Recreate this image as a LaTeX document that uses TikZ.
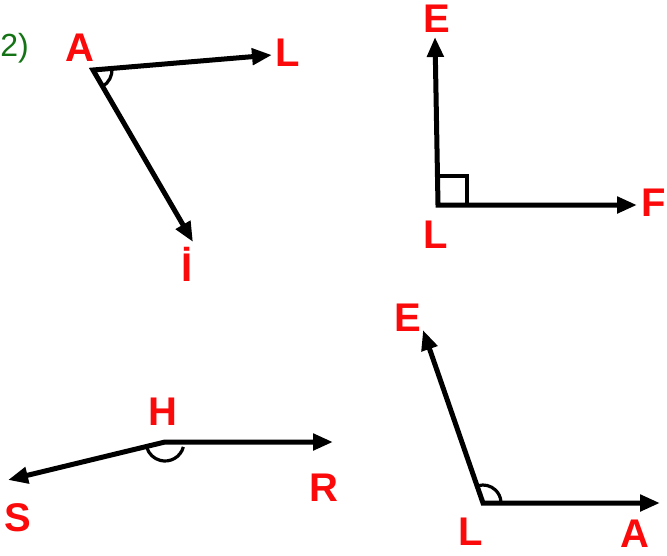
\documentclass[tikz,border=0pt]{standalone}
\usepackage{fontspec}
\setsansfont{Liberation Sans}
\usetikzlibrary{arrows.meta}

\definecolor{labelred}{RGB}{250,10,10}
\definecolor{numgreen}{RGB}{20,115,20}

\begin{document}
\begin{tikzpicture}[x=1pt, y=-1pt]
		\tikzstyle{rays}=[draw=black, line width=5pt, {Triangle[length=20pt,width=16pt]}-{Triangle[length=20pt,width=16pt]}]
		\tikzstyle{anglemark}=[draw=black, line width=3.2pt]
		\tikzstyle{vname}=[text=labelred, inner sep=0pt, font=\sffamily\bfseries\fontsize{40}{42}\selectfont]
		\useasboundingbox (0,0) rectangle (667,555);

		% exercise number, at the left edge
		\node (num) at (30,48) [anchor=east, inner sep=1pt, text=numgreen, font=\sffamily\fontsize{32}{34}\selectfont] {2)};

		% angle LAI
		\coordinate (vA) at (93,70);
		\coordinate (tL) at (272,55);
		\coordinate (tI) at (193,242);
		\draw [rays] (tL) -- (vA) -- (tI);
		\draw [anglemark] (vA) ++(-5:19) arc[start angle=-5, end angle=60, radius=19];
		\node (nA) at (80,48) [vname] {A};
		\node (nL) at (288,53) [vname] {L};
		\node (nI) at (187,264) [vname] {İ};

		% angle ELF
		\coordinate (vL) at (438,205);
		\coordinate (tE) at (435,37);
		\coordinate (tF) at (637,205);
		\draw [rays] (tE) -- (vL) -- (tF);
		\draw [anglemark] (438,176) -- (467,176) -- (467,205);
		\node (nE) at (437,19) [vname] {E};
		\node (nF) at (654,203) [vname] {F};
		\node (nL2) at (436,235) [vname] {L};

		% angle SHR
		\coordinate (vH) at (165,442);
		\coordinate (tS) at (8,480);
		\coordinate (tR) at (333,442);
		\draw [rays] (tS) -- (vH) -- (tR);
		\draw [anglemark] (vH) ++(15:19) arc[start angle=15, end angle=162, radius=19];
		\node (nH) at (163,412) [vname] {H};
		\node (nS) at (18,518) [vname] {S};
		\node (nR) at (324,488) [vname] {R};

		% angle ELA
		\coordinate (vL3) at (483,503);
		\coordinate (tE3) at (423,330);
		\coordinate (tA3) at (660,503);
		\draw [rays] (tE3) -- (vL3) -- (tA3);
		\draw [anglemark] (vL3) ++(-106:18) arc[start angle=-106, end angle=-6, radius=18];
		\node (nE3) at (408,318) [vname] {E};
		\node (nL3) at (471,532) [vname] {L};
		\node (nA3) at (635,534) [vname] {A};
\end{tikzpicture}
\end{document}
